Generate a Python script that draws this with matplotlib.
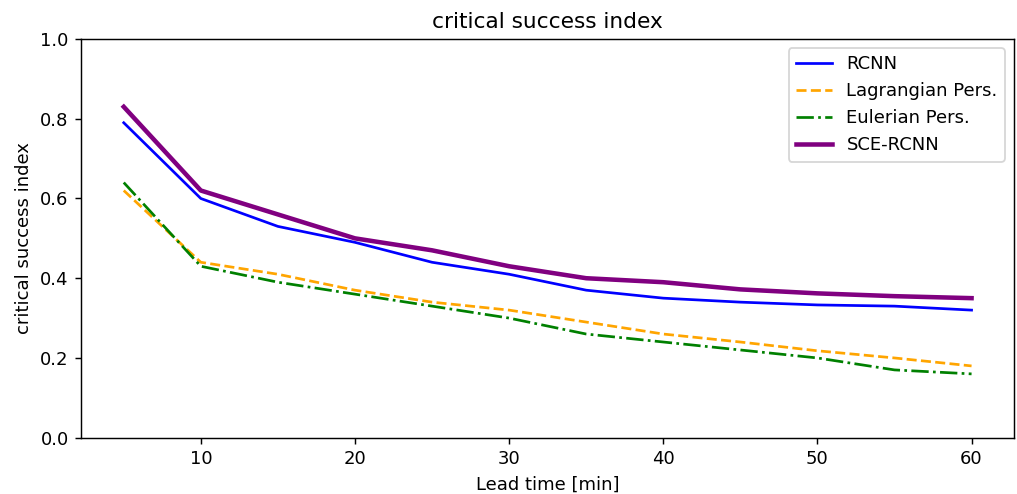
import matplotlib
matplotlib.use("Agg")
import matplotlib.pyplot as plt

# Lead times and scores
lead_time = [5, 10, 15, 20, 25, 30, 35, 40, 45, 50, 55, 60]
rcnn = [0.79, 0.60, 0.53, 0.49, 0.44, 0.41, 0.37, 0.35, 0.34, 0.333, 0.33, 0.32]
lagrangian = [0.62, 0.44, 0.41, 0.37, 0.34, 0.32, 0.29, 0.26, 0.24, 0.218, 0.20, 0.18]
eulerian = [0.64, 0.43, 0.39, 0.36, 0.33, 0.30, 0.26, 0.24, 0.22, 0.20, 0.17, 0.16]
sce_rcnn = [0.83, 0.62, 0.56, 0.50, 0.47, 0.43, 0.40, 0.39, 0.372, 0.362, 0.355, 0.35]

dpi = 130
fig, ax = plt.subplots(figsize=(1017 / dpi, 494 / dpi), dpi=dpi)
fig.subplots_adjust(left=0.08, right=0.997, top=0.921, bottom=0.114)

ax.plot(lead_time, rcnn, color="blue", linestyle="-", label="RCNN")
ax.plot(lead_time, lagrangian, color="orange", linestyle="--", label="Lagrangian Pers.")
ax.plot(lead_time, eulerian, color="green", linestyle="-.", label="Eulerian Pers.")
ax.plot(lead_time, sce_rcnn, color="purple", linestyle="-", linewidth=2.5, label="SCE-RCNN")

ax.set_ylim(0, 1)
ax.set_title("critical success index")
ax.set_xlabel("Lead time [min]")
ax.set_ylabel("critical success index")
ax.legend(loc="upper right")

plt.savefig("out.png", dpi=dpi)
